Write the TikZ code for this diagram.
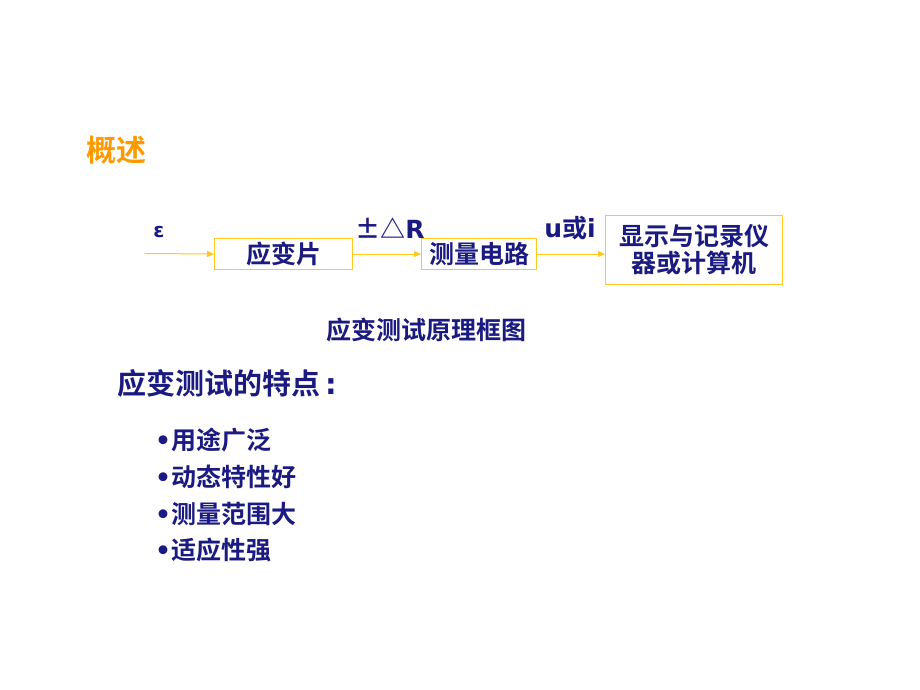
\documentclass[tikz,border=0pt]{standalone}
\usepackage{fontspec}
\newfontfamily\cjk{Noto Sans CJK SC}[BoldFont={Noto Sans CJK SC Bold}]
\newfontfamily\lat{DejaVu Sans}
\usetikzlibrary{arrows.meta}
\definecolor{navy}{HTML}{1A1A80}
\definecolor{orng}{HTML}{FF9900}
\definecolor{gold}{HTML}{FFC820}
\begin{document}
\begin{tikzpicture}[x=1pt,y=-1pt,
  txt/.style={text=navy,font=\cjk\bfseries\fontsize{25}{29}\selectfont,inner sep=0pt},
  blk/.style={draw=gold,line width=1pt,inner sep=0pt,txt,anchor=north west},
  arr/.style={draw=gold,line width=1pt,-{Triangle[length=7pt,width=6pt]}}]
\useasboundingbox (0,0) rectangle (920,690);
\node[orng,font=\cjk\bfseries\fontsize{30}{34}\selectfont,inner sep=0pt,anchor=west] (t) at (86,150) {概述};
\node[blk,minimum width=138pt,minimum height=31pt] (b1) at (214,238) {应变片};
\node[blk,minimum width=115pt,minimum height=31pt] (b2) at (421,238) {测量电路};
\node[blk,minimum width=177pt,minimum height=69pt,align=center] (b3) at (605,215) {显示与记录仪\\[-2pt]器或计算机};
\coordinate (in) at (145,253.5);
\draw[arr] (in) -- (b1.west);
\draw[arr] (b1.east) -- (b2.west);
\draw[arr] (b2.east) -- (b3.west |- b2.east);
\node[text=navy,font=\lat\bfseries\fontsize{20}{24}\selectfont,inner sep=0pt] (eps) at (159,232) {ε};
\node[txt] (dr) at (390,228) {±△{\lat R}};
\node[txt] (ui) at (570,228) {{\lat u}或{\lat i}};
\node[txt] (cap) at (426,330) {应变测试原理框图};
\node[txt,font=\cjk\bfseries\fontsize{29}{33}\selectfont,anchor=west] (h) at (117,383) {应变测试的特点{\lat\bfseries\,:}};
\node[txt,anchor=west] (l1) at (155,440) {{\lat\bfseries •}用途广泛};
\node[txt,anchor=west] (l2) at (155,477) {{\lat\bfseries •}动态特性好};
\node[txt,anchor=west] (l3) at (155,514) {{\lat\bfseries •}测量范围大};
\node[txt,anchor=west] (l4) at (155,550) {{\lat\bfseries •}适应性强};
\end{tikzpicture}
\end{document}
